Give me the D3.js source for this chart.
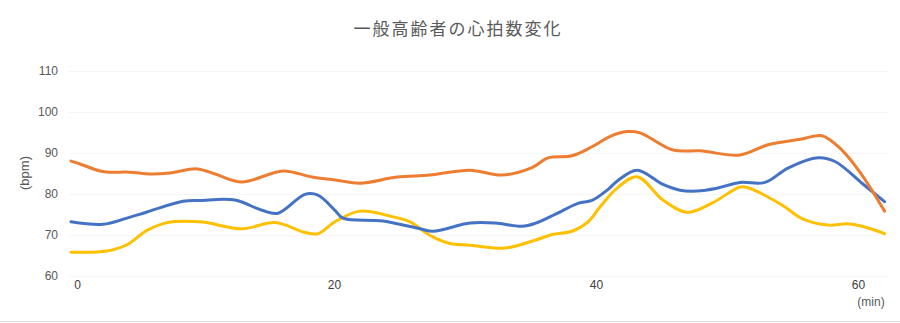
<!DOCTYPE html>
<html>
<head>
<meta charset="utf-8">
<script src="https://cdn.jsdelivr.net/npm/d3@7"></script>
<style>
  body { margin: 0; background: #fff; }
  svg { display: block; }
</style>
</head>
<body>
<svg id="chart" width="900" height="323"></svg>
<script>
// ---------- data ----------
const chartTitle = "一般高齢者の心拍数変化";
const yAxisLabel = "(bpm)";
const xAxisLabel = "(min)";
const yTickValues = [60, 70, 80, 90, 100, 110];
const xTickValues = [0, 20, 40, 60];

// orange series
const orangeTime = [0, 0.69, 2.21, 2.98, 4.5, 6.03, 7.56, 9.62, 11.0, 13.05, 16.18, 18.4, 20.15, 22.06, 24.89, 27.4, 30.46, 32.9, 35.19, 36.41, 38.24, 39.77, 41.2, 42.44, 43.44, 45.95, 48.02, 51.07, 53.21, 55.8, 57.33, 58.85, 60.38, 62.1];
const orangeHR   = [87.9, 87.2, 85.5, 85.2, 85.2, 84.75, 85.0, 86.0, 84.75, 82.8, 85.5, 84.0, 83.3, 82.5, 84.0, 84.5, 85.7, 84.5, 86.3, 88.7, 89.2, 91.4, 94.0, 95.1, 94.8, 90.6, 90.4, 89.4, 91.9, 93.3, 94.1, 90.6, 84.5, 75.7];

// blue series
const blueTime = [0, 2.44, 4.27, 5.8, 8.55, 9.85, 12.52, 14.58, 15.8, 17.86, 18.85, 20.15, 20.76, 23.82, 26.64, 27.63, 30.46, 32.37, 34.43, 35.42, 36.95, 38.7, 39.77, 41.0, 41.68, 43.21, 45.19, 46.49, 47.79, 49.31, 51.07, 52.98, 54.73, 57.02, 58.32, 60.38, 62.1];
const blueHR   = [73.1, 72.5, 74.0, 75.5, 78.1, 78.3, 78.4, 75.9, 75.2, 79.8, 79.6, 75.9, 74.0, 73.3, 71.4, 70.8, 72.8, 72.8, 72.0, 72.7, 74.9, 77.6, 78.3, 81.0, 83.0, 85.7, 82.2, 80.8, 80.6, 81.3, 82.7, 82.7, 86.2, 88.7, 87.8, 82.5, 78.0];

// yellow series
const yellowTime = [0, 2.75, 4.27, 5.8, 7.33, 9.85, 13.05, 15.57, 17.86, 18.85, 20.15, 22.06, 24.58, 25.88, 27.4, 28.93, 30.46, 33.13, 35.42, 36.72, 38.24, 39.47, 40.38, 41.68, 43.21, 45.19, 47.02, 49.01, 51.07, 51.68, 54.27, 55.8, 57.79, 59.31, 60.84, 62.1];
const yellowHR   = [65.7, 66.0, 67.5, 71.0, 72.9, 73.1, 71.4, 72.9, 70.5, 70.2, 73.1, 75.7, 74.3, 73.1, 69.8, 67.8, 67.4, 66.7, 68.6, 70.0, 70.8, 73.1, 76.7, 81.3, 84.1, 78.4, 75.4, 77.8, 81.6, 81.4, 77.2, 73.9, 72.3, 72.6, 71.6, 70.2];

const seriesList = [
  { name: "yellow", time: yellowTime, hr: yellowHR, color: "#FFC000" },
  { name: "blue",   time: blueTime,   hr: blueHR,   color: "#4472C4" },
  { name: "orange", time: orangeTime, hr: orangeHR, color: "#ED7D31" }
];

// ---------- layout ----------
const svg = d3.select("#chart");
const W = 900, H = 323;
const textColor = "#595959";
const labelFont = "'Liberation Sans', Arial, sans-serif";

const x = d3.scaleLinear().domain([0, 60]).range([71, 857]);
const y = d3.scaleLinear().domain([60, 110]).range([275.5, 70.5]);

svg.append("rect").attr("width", W).attr("height", H).attr("fill", "#fff");

// bottom border line
svg.append("line")
  .attr("x1", 0).attr("x2", W)
  .attr("y1", 321.5).attr("y2", 321.5)
  .attr("stroke", "#d9d9d9").attr("stroke-width", 1);

// gridlines
svg.append("g")
  .selectAll("line")
  .data(yTickValues)
  .join("line")
  .attr("x1", 69).attr("x2", 888)
  .attr("y1", d => Math.round(y(d)) + 0.5)
  .attr("y2", d => Math.round(y(d)) + 0.5)
  .attr("stroke", "#f6f6f6").attr("stroke-width", 1);

// title
svg.append("text")
  .attr("x", 458).attr("y", 35)
  .attr("text-anchor", "middle")
  .attr("font-family", "'Noto Sans CJK JP', 'Noto Sans CJK SC', sans-serif")
  .attr("font-size", 17)
  .attr("letter-spacing", 2)
  .attr("fill", textColor)
  .text(chartTitle);

// y axis (labels only)
const yAxis = d3.axisLeft(y).tickValues(yTickValues).tickSize(0).tickPadding(0);
const gy = svg.append("g").attr("transform", "translate(58,0)").call(yAxis);
gy.select(".domain").remove();
gy.selectAll("text")
  .attr("font-family", labelFont)
  .attr("font-size", 12)
  .attr("fill", textColor)
  .attr("dy", "0.35em");

// x axis (labels only)
const xAxis = d3.axisBottom(x).tickValues(xTickValues).tickSize(0).tickPadding(0);
const gx = svg.append("g").attr("transform", "translate(0,280)").call(xAxis);
gx.select(".domain").remove();
gx.selectAll("text")
  .attr("font-family", labelFont)
  .attr("font-size", 12)
  .attr("fill", "#404040")
  .attr("dy", "0.71em")
  .attr("dx", (d, i) => i === 0 ? 6 : 1);

// axis titles
svg.append("text")
  .attr("transform", "translate(29,173) rotate(-90)")
  .attr("text-anchor", "middle")
  .attr("font-family", labelFont)
  .attr("font-size", 13)
  .attr("fill", textColor)
  .text(yAxisLabel);

svg.append("text")
  .attr("x", 871).attr("y", 306)
  .attr("text-anchor", "middle")
  .attr("font-family", labelFont)
  .attr("font-size", 12)
  .attr("fill", textColor)
  .text(xAxisLabel);

// lines
const lineGen = d3.line()
  .x(d => x(d[0]))
  .y(d => y(d[1]))
  .curve(d3.curveCatmullRom.alpha(0.5));

svg.append("g")
  .selectAll("path")
  .data(seriesList)
  .join("path")
  .attr("d", s => lineGen(s.time.map((t, i) => [t, s.hr[i]])))
  .attr("fill", "none")
  .attr("stroke", s => s.color)
  .attr("stroke-width", 3)
  .attr("stroke-linecap", "round")
  .attr("stroke-linejoin", "round");
</script>
</body>
</html>
